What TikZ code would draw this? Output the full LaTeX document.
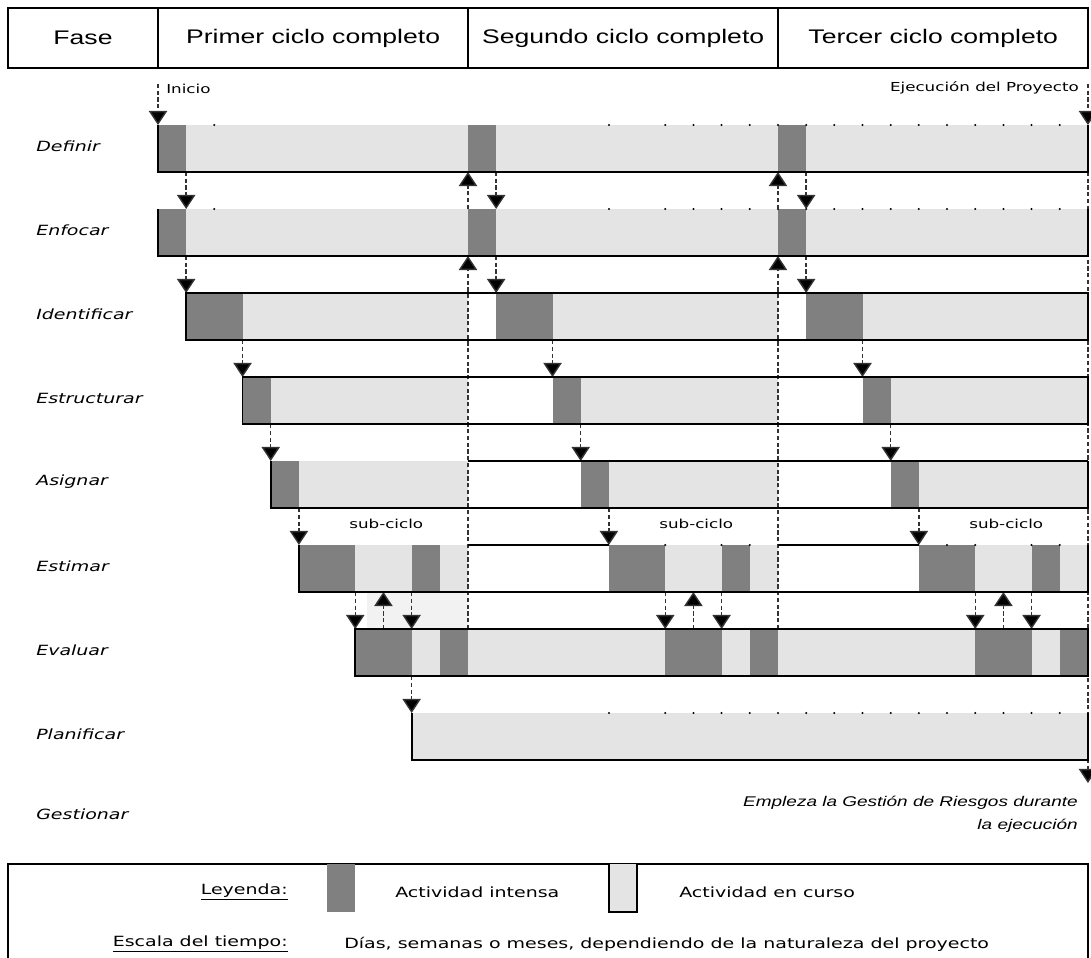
\documentclass[tikz,border=0pt]{standalone}
\usepackage{fontspec}
\usepackage{xcolor}
\usepackage{tikz}
\usetikzlibrary{arrows.meta,positioning,calc}
\newfontfamily\hdrfont{Liberation Sans}[FakeStretch=1.35]
\newfontfamily\lblfont{DejaVu Sans}[FakeStretch=1.35, ItalicFont={DejaVu Sans Oblique}]
\definecolor{inkK}{HTML}{000000}
\definecolor{cGris}{HTML}{808080}
\definecolor{lGris}{HTML}{E4E4E4}
\definecolor{fGris}{HTML}{F2F2F2}
% time grid: column k, top of row r
\newcommand{\kx}[1]{158+28.18*(#1)}
\newcommand{\ry}[1]{125+84*(#1)}

\begin{document}
\begin{tikzpicture}[x=0.025cm, y=-0.025cm,
  hcell/.style={draw=inkK, line width=1.3pt, minimum height=1.5cm, outer sep=0pt,
    inner sep=0pt, font=\hdrfont\fontsize{14}{16}\selectfont, text=inkK},
  fase/.style={anchor=west, inner sep=0pt,
    font=\lblfont\itshape\fontsize{10}{12}\selectfont, text=inkK},
  note/.style={inner sep=0pt, font=\lblfont\fontsize{8.8}{10}\selectfont, text=inkK},
  leg/.style={inner sep=0pt, font=\lblfont\fontsize{10}{12}\selectfont, text=inkK},
  edge/.style={draw=inkK, line width=1.3pt},
  flow/.style={draw=inkK!80, line width=1pt, dash pattern=on 3pt off 1.8pt,
    -{Triangle[width=13pt,length=10pt,fill=inkK]}},
  swatch/.style={minimum width=0.7cm, minimum height=1.2cm, inner sep=0pt,
    outer sep=0pt, anchor=north west},
]
\useasboundingbox (0,0) rectangle (1091,958);

% header
\node[hcell, minimum width=3.75cm, anchor=north west] (fase) at (8,8) {Fase};
\node[hcell, minimum width=7.75cm, right=0pt of fase] (ciclo1) {Primer ciclo completo};
\node[hcell, minimum width=7.75cm, right=0pt of ciclo1] (ciclo2) {Segundo ciclo completo};
\node[hcell, minimum width=7.75cm, right=0pt of ciclo2] (ciclo3) {Tercer ciclo completo};

% phase names
\foreach \nom [count=\rw from 0] in {Definir,Enfocar,Identificar,Estructurar,
    Asignar,Estimar,Evaluar,Planificar}
  \node[fase] (fase-\rw) at (36,{\ry{\rw}+21}) {\nom};
\node[fase] (fase-8) at (36,814) {Gestionar};

% activity bars
\foreach \cy in {0,11,22}
  \foreach \rw/\ka/\kb/\col in {0/0/1/cGris, 0/1/11/lGris, 1/0/1/cGris, 1/1/11/lGris,
      2/1/3/cGris, 2/3/11/lGris, 3/3/4/cGris, 3/4/11/lGris, 4/4/5/cGris, 4/5/11/lGris,
      5/5/7/cGris, 5/7/9/lGris, 5/9/10/cGris, 5/10/11/lGris,
      6/7/9/cGris, 6/9/10/lGris, 6/10/11/cGris}
    \fill[\col] ({\kx{\cy+\ka}},{\ry{\rw}}) rectangle ({\kx{\cy+\kb}},{\ry{\rw}+47});
\fill[lGris] ({\kx{11}},{\ry{6}}) rectangle ({\kx{18}},{\ry{6}+47});
\fill[lGris] ({\kx{22}},{\ry{6}}) rectangle ({\kx{29}},{\ry{6}+47});
\fill[lGris] ({\kx{9}},{\ry{7}}) rectangle ({\kx{33}},{\ry{7}+47});
\fill[fGris] ({\kx{7.4}},{\ry{5}+47}) rectangle ({\kx{11}},{\ry{6}});

% dotted top edges
\foreach \rw in {0,1,7}
  \foreach \kk in {16,18,19,...,32}
    \fill[inkK] ({\kx{\kk}},{\ry{\rw}}) circle[radius=0.8pt];
\foreach \rw in {0,1}
  \fill[inkK] ({\kx{2}},{\ry{\rw}}) circle[radius=0.8pt];
\foreach \kk in {18,20,21,28,29,31,32}
  \fill[inkK] ({\kx{\kk}},{\ry{5}}) circle[radius=0.8pt];

% arrows inside each cycle
\foreach \cy in {0,11,22} {
  \foreach \kk/\ra/\rb in {1/0/1, 1/1/2, 3/2/3, 4/3/4, 5/4/5, 7/5/6, 9/5/6} {
    \coordinate (src) at ({\kx{\cy+\kk}},{\ry{\ra}+47});
    \coordinate (dst) at ({\kx{\cy+\kk}},{\ry{\rb}});
    \draw[flow] (src) -- (dst);
  }
  \coordinate (src) at ({\kx{\cy+8}},{\ry{6}});
  \coordinate (dst) at ({\kx{\cy+8}},{\ry{5}+47});
  \draw[flow] (src) -- (dst);
  \node[note] (sub-\cy) at ({\kx{\cy+8.1}},524) {sub-ciclo};
}
% back to Definir / Enfocar
\foreach \kk in {11,22} {
  \coordinate (src) at ({\kx{\kk}},{\ry{6}});
  \coordinate (dst) at ({\kx{\kk}},{\ry{1}+47});
  \draw[flow] (src) -- (dst);
  \coordinate (src) at ({\kx{\kk}},{\ry{1}});
  \coordinate (dst) at ({\kx{\kk}},{\ry{0}+47});
  \draw[flow] (src) -- (dst);
}
\coordinate (src) at ({\kx{9}},{\ry{6}+47});
\coordinate (dst) at ({\kx{9}},{\ry{7}});
\draw[flow] (src) -- (dst);

% start and end
\node[note, anchor=west] (inicio) at (166,89) {Inicio};
\coordinate (ini-a) at ({\kx{0}},84);
\coordinate (ini-b) at ({\kx{0}},{\ry{0}});
\draw[flow] (ini-a) -- (ini-b);
\node[note, anchor=east] (ejec) at (1079,88) {Ejecución del Proyecto};
\coordinate (fin-a) at ({\kx{33}},84);
\coordinate (fin-b) at ({\kx{33}},{\ry{0}});
\coordinate (fin-c) at ({\kx{33}},{\ry{0}+47});
\coordinate (fin-d) at ({\kx{33}},783);
\draw[flow] (fin-a) -- (fin-b);
\draw[flow] (fin-c) -- (fin-d);
\node[anchor=east, align=right, inner sep=0pt,
      font=\hdrfont\itshape\fontsize{10}{16.3}\selectfont] (gestion) at (1078,814)
  {Empleza la Gestión de Riesgos durante\\la ejecución};

% outlines
\foreach \rw/\st in {0/0, 1/0, 4/4, 5/5, 7/9}
  \draw[edge] ({\kx{\st}},{\ry{\rw}}) |- ({\kx{33}},{\ry{\rw}+47}) -- ({\kx{33}},{\ry{\rw}});
\foreach \rw/\st in {2/1, 3/3, 6/7}
  \draw[edge] ({\kx{\st}},{\ry{\rw}}) rectangle ({\kx{33}},{\ry{\rw}+47});
\draw[edge] ({\kx{11}},{\ry{4}}) -- ({\kx{33}},{\ry{4}});
\draw[edge] ({\kx{11}},{\ry{5}}) -- ({\kx{16}},{\ry{5}});
\draw[edge] ({\kx{22}},{\ry{5}}) -- ({\kx{27}},{\ry{5}});

% legend
\draw[edge] (8,975) -- (8,864) -- (1088,864) -- (1088,975);
\node[leg, anchor=east] (leyenda) at (288,892) {\underline{Leyenda:}};
\node[swatch, fill=cGris] (m-intensa) at ({\kx{6}},864) {};
\node[leg, anchor=west] (intensa) at (395,892) {Actividad intensa};
\node[swatch, fill=lGris] (m-curso) at ({\kx{16}},864) {};
\draw[edge] (m-curso.north west) |- (m-curso.south east) -- (m-curso.north east);
\node[leg, anchor=west] (curso) at (679,892) {Actividad en curso};
\node[leg, anchor=east] (escala) at (288,944) {\underline{Escala del tiempo:}};
\node[leg, anchor=west] (tiempo) at (344,944)
  {Días, semanas o meses, dependiendo de la naturaleza del proyecto};
\end{tikzpicture}
\end{document}
